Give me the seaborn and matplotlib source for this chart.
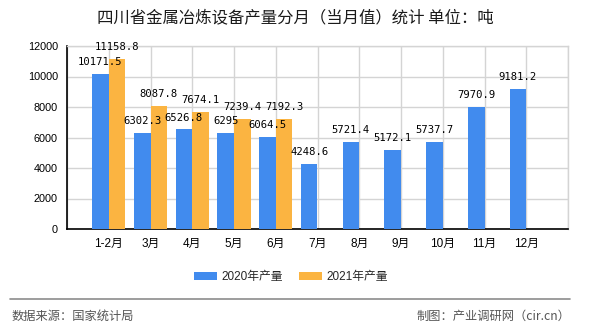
import numpy as np
import pandas as pd
import matplotlib
matplotlib.use("Agg")
import matplotlib.pyplot as plt
import seaborn as sns

# ---- data ----
months = ["1-2月", "3月", "4月", "5月", "6月", "7月", "8月", "9月", "10月", "11月", "12月"]
prod_2020 = [10171.5, 6302.3, 6526.8, 6295, 6064.5, 4248.6, 5721.4, 5172.1, 5737.7, 7970.9, 9181.2]
prod_2021 = [11158.8, 8087.8, 7674.1, 7239.4, 7192.3, np.nan, np.nan, np.nan, np.nan, np.nan, np.nan]
series_names = ["2020年产量", "2021年产量"]
y_ticks = [0, 2000, 4000, 6000, 8000, 10000, 12000]
title = "四川省金属冶炼设备产量分月（当月值）统计 单位：吨"
source_text = "数据来源：国家统计局"
credit_text = "制图：产业调研网（cir.cn）"

colors = ["#418BEE", "#FBB441"]

df = pd.DataFrame({
    "month": months * 2,
    "value": prod_2020 + prod_2021,
    "series": [series_names[0]] * len(months) + [series_names[1]] * len(months),
})

sns.set_theme(style="white")
plt.rcParams["font.family"] = ["Liberation Sans", "Noto Sans CJK SC", "DejaVu Sans"]

fig = plt.figure(figsize=(5.9, 3.3), dpi=100)
ax = fig.add_axes([67 / 590, 1 - 229 / 330, (568 - 67) / 590, (229 - 46) / 330])

sns.barplot(data=df, x="month", y="value", hue="series", order=months,
            hue_order=series_names, palette=colors, width=0.8, ax=ax,
            saturation=1, errorbar=None, zorder=3, linewidth=0, edgecolor="none")

handles, labels = ax.get_legend_handles_labels()
if ax.get_legend() is not None:
    ax.get_legend().remove()

n = len(months)
ax.set_xlim(-1, n)
ax.set_ylim(y_ticks[0], y_ticks[-1])
ax.set_xticks(range(-1, n + 1))
ax.set_xticklabels([""] + months + [""])
ax.set_yticks(y_ticks)
ax.set_yticklabels([str(t) for t in y_ticks])
ax.set_xlabel("")
ax.set_ylabel("")

ax.grid(True, color="#D4D4D4", linewidth=1, zorder=0)
ax.set_axisbelow(True)
for s in ["top", "right"]:
    ax.spines[s].set_color("#D4D4D4")
    ax.spines[s].set_linewidth(1)
for s in ["left", "bottom"]:
    ax.spines[s].set_color("black")
    ax.spines[s].set_linewidth(1.2)

ax.tick_params(axis="both", which="both", direction="out", length=3.5, width=1,
               color="black", labelsize=7.8, labelcolor="black")
ax.tick_params(axis="y", pad=3)
ax.tick_params(axis="x", pad=3)
for lab in ax.get_xticklabels():
    lab.set_fontfamily(["Liberation Sans", "Noto Sans CJK SC"])
    lab.set_fontsize(8.5)

for cont in ax.containers:
    vals = cont.datavalues
    labs = ["" if (v is None or np.isnan(v)) else f"{v:g}" for v in vals]
    ax.bar_label(cont, labels=labs, padding=5, fontsize=7.6,
                 fontfamily="DejaVu Sans Mono", color="black")

fig.text(295 / 590, 1 - 18.5 / 330, title, ha="center", va="center",
         fontsize=11.8, color="#1a1a1a", family=["Noto Sans CJK SC", "DejaVu Sans"])

fig.legend(handles, labels, loc="center", bbox_to_anchor=(291 / 590, 1 - 277 / 330),
           ncol=2, frameon=False, handlelength=1.9, handleheight=0.75,
           handletextpad=0.4, columnspacing=1.4,
           prop={"family": ["Liberation Sans", "Noto Sans CJK SC"], "size": 8.5})

fig.add_artist(plt.Line2D([10 / 590, 570 / 590], [1 - 299 / 330, 1 - 299 / 330],
                          color="#8c8c8c", linewidth=1.2, transform=fig.transFigure))
fig.text(12 / 590, 1 - 316 / 330, source_text, ha="left", va="center",
         fontsize=8.8, color="#555555", family=["Noto Sans CJK SC", "DejaVu Sans"])
fig.text(570 / 590, 1 - 316 / 330, credit_text, ha="right", va="center",
         fontsize=8.8, color="#555555", family=["Noto Sans CJK SC", "DejaVu Sans"])

fig.savefig("out.png", dpi=100)
